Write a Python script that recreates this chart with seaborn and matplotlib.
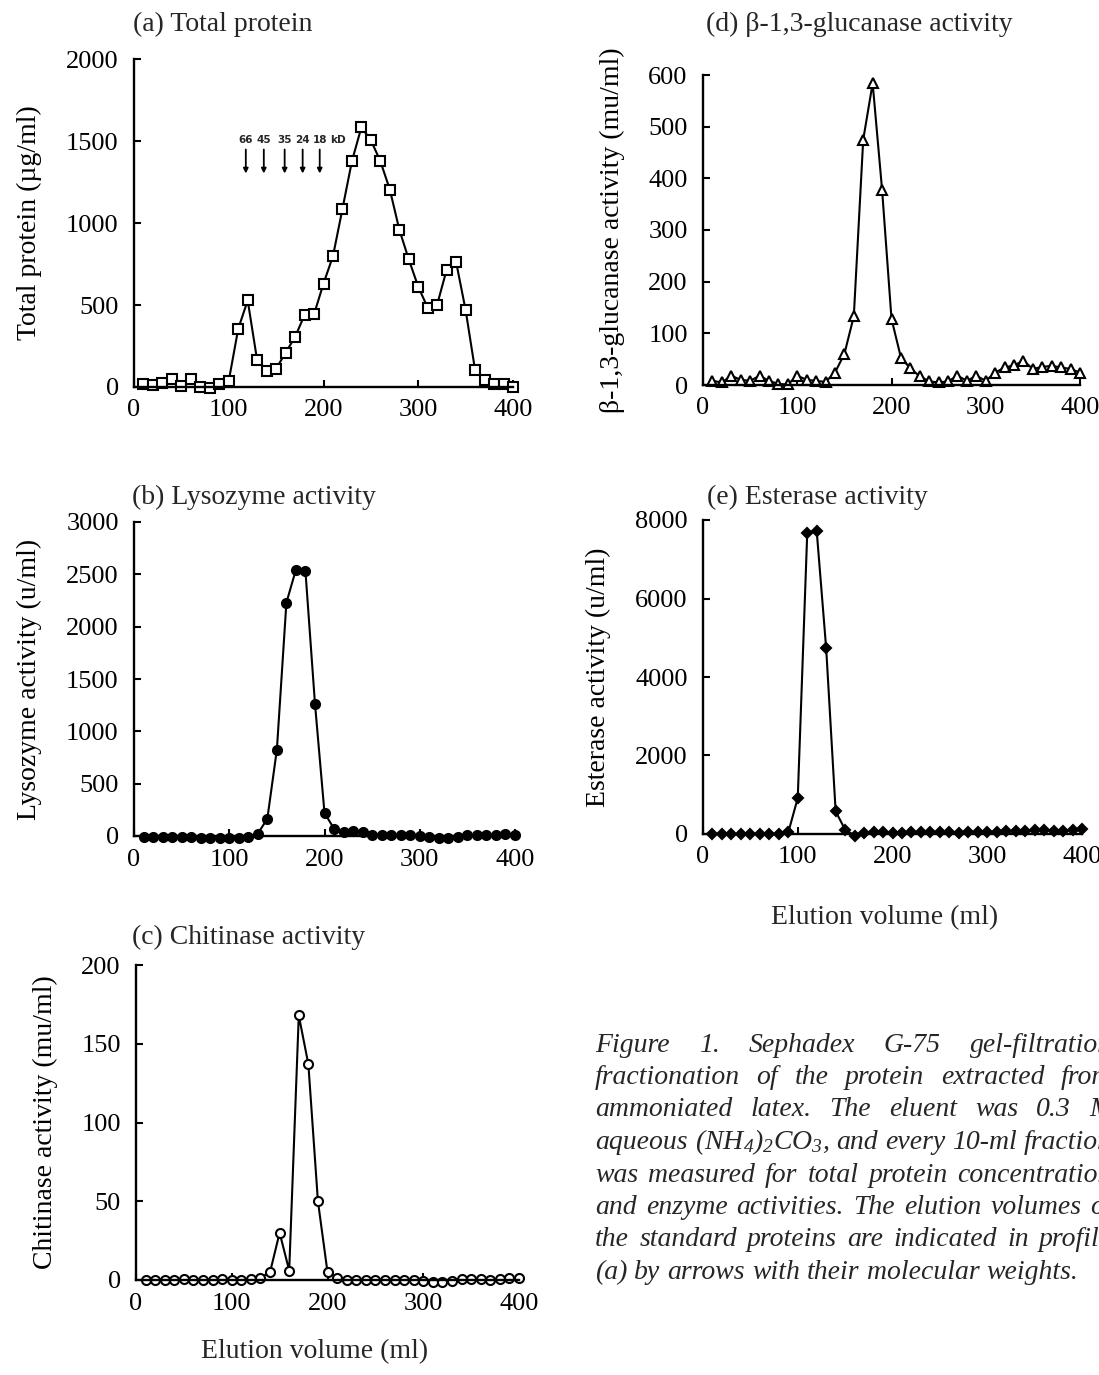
import matplotlib
matplotlib.use("Agg")
import matplotlib.pyplot as plt
import seaborn as sns

# --- DATA (every 10-ml fraction) ---
elution_ml = [10, 20, 30, 40, 50, 60, 70, 80, 90, 100,
              110, 120, 130, 140, 150, 160, 170, 180, 190, 200,
              210, 220, 230, 240, 250, 260, 270, 280, 290, 300,
              310, 320, 330, 340, 350, 360, 370, 380, 390, 400]

total_protein = [20, 12, 26, 47, 6, 47, 0, -4, 16, 37,
                 355, 528, 162, 100, 112, 209, 305, 439, 443, 631,
                 798, 1086, 1377, 1584, 1505, 1377, 1204, 960, 778, 611,
                 483, 503, 716, 761, 469, 102, 43, 16, 16, 0]

lysozyme = [-10, -10, -5, -5, -5, -10, -15, -20, -20, -20,
            -20, -10, 22, 166, 825, 2229, 2545, 2529, 1264, 220,
            70, 38, 48, 38, 10, 5, 5, 5, 10, 0,
            -5, -15, -20, -5, 5, 5, 5, 10, 15, 10]

chitinase = [0, 0, 0, 0, 0.5, 0, 0, 0, 0.5, 0,
             0, 0.5, 1.5, 5, 30, 6, 168, 137, 50, 5,
             1.5, 0, 0, 0, 0, 0, 0, 0, 0, -0.5,
             -1, -1, -0.5, 0.5, 0.5, 0.5, 0, 0.5, 1, 1]

glucanase = [8, 5, 18, 10, 8, 18, 8, 2, 1, 18,
             10, 8, 6, 24, 60, 133, 475, 584, 378, 128,
             53, 32, 17, 7, 5, 7, 18, 8, 18, 8,
             24, 34, 38, 47, 31, 35, 37, 34, 31, 24]

esterase = [10, 0, 0, 0, 0, 10, 0, 10, 40, 916,
            7660, 7720, 4730, 577, 110, -40, 20, 40, 40, 30,
            30, 40, 40, 50, 40, 50, 30, 50, 50, 60,
            60, 80, 70, 70, 100, 90, 70, 70, 90, 130]

# molecular weight standards shown by arrows in (a)
standard_ml = [118, 137, 159, 178, 196]
standard_kd = ["66", "45", "35", "24", "18"]

caption_lines = [
    "Figure 1. Sephadex G-75 gel-filtration",
    "fractionation of the protein extracted from",
    "ammoniated latex. The eluent was 0.3 M",
    "aqueous (NH$_4$)$_2$CO$_3$, and every 10-ml fraction",
    "was measured for total protein concentration",
    "and enzyme activities. The elution volumes of",
    "the standard proteins are indicated in profile",
    "(a) by arrows with their molecular weights.",
]

# --- STYLE ---
sns.set_theme(style="ticks")
plt.rcParams['font.family'] = ['Liberation Serif', 'DejaVu Serif']
plt.rcParams['mathtext.fontset'] = 'custom'
plt.rcParams['mathtext.rm'] = 'Liberation Serif:italic'
plt.rcParams['mathtext.it'] = 'Liberation Serif:italic'

W, H = 1099, 1375
fig = plt.figure(figsize=(W / 100, H / 100), dpi=100)
fig.patch.set_facecolor('white')


def px_axes(left, right, top, bottom):
    return fig.add_axes([left / W, 1 - bottom / H, (right - left) / W, (bottom - top) / H])


# key, title, ylabel, values, marker, filled, (l, r, t, b), ymax, ystep, title pos
panels = [
    ("a", "(a) Total protein", "Total protein (\u00b5g/ml)", total_protein, "s", False,
     (134, 513, 59, 387), 2000, 500, (133, 24)),
    ("d", "(d) \u03b2-1,3-glucanase activity", "\u03b2-1,3-glucanase activity (mu/ml)", glucanase, "^", False,
     (703, 1080, 75, 385), 600, 100, (706, 24)),
    ("b", "(b) Lysozyme activity", "Lysozyme activity (u/ml)", lysozyme, "o", True,
     (134, 515, 522, 836), 3000, 500, (132, 497)),
    ("e", "(e) Esterase activity", "Esterase activity (u/ml)", esterase, "D", True,
     (703, 1082, 520, 834), 8000, 2000, (707, 497)),
    ("c", "(c) Chitinase activity", "Chitinase activity (mu/ml)", chitinase, "o", False,
     (136, 519, 965, 1280), 200, 50, (132, 937)),
]

axes = {}
for key, title, ylabel, values, marker, filled, rect, ymax, ystep, tpos in panels:
    ax = px_axes(*rect)
    axes[key] = ax
    msize = 5.5 if marker == "D" else 6.5
    if marker == "^":
        msize = 7
    sns.lineplot(x=elution_ml, y=values, ax=ax, color="black", linewidth=1.5,
                 marker=marker, markersize=msize,
                 markerfacecolor="black" if filled else "white",
                 markeredgecolor="black", markeredgewidth=1.5, clip_on=False)
    ax.set_xlim(0, 400)
    ax.set_ylim(0, ymax)
    ax.set_xticks([0, 100, 200, 300, 400])
    ax.set_yticks(list(range(0, ymax + 1, ystep)))
    ax.tick_params(axis="both", direction="in", length=5, width=1.5,
                   labelsize=19, colors="black")
    ax.tick_params(axis="y", pad=11)
    ax.tick_params(axis="x", pad=9)
    ax.set_xlabel("")
    ax.set_ylabel(ylabel, fontsize=20, labelpad=17, color="black")
    sns.despine(ax=ax)
    for side in ("left", "bottom"):
        ax.spines[side].set_linewidth(1.7)
        ax.spines[side].set_color("black")
    ax.set_facecolor("white")
    fig.text(tpos[0] / W, 1 - tpos[1] / H, title, fontsize=20, ha="left", va="center")

# arrows for the standard proteins in (a)
ax_a = axes["a"]
for ml, kd in zip(standard_ml, standard_kd):
    ax_a.annotate("", xy=(ml, 1285), xytext=(ml, 1465),
                  arrowprops=dict(arrowstyle="-|>", color="black", lw=1.3, mutation_scale=7))
    ax_a.text(ml, 1505, kd, fontsize=7.5, fontweight="bold", family="DejaVu Sans",
              ha="center", va="center")
ax_a.text(standard_ml[-1] + 19, 1505, "kD", fontsize=7.5, fontweight="bold",
          family="DejaVu Sans", ha="center", va="center")

# shared x labels
fig.text(315 / W, 1 - 1352 / H, "Elution volume (ml)", fontsize=20, ha="center", va="center")
fig.text(885 / W, 1 - 918 / H, "Elution volume (ml)", fontsize=20, ha="center", va="center")

# --- CAPTION (justified italic block, cut by the right edge as in the scan) ---
renderer = fig.canvas.get_renderer()
cap_left, cap_right = 595, 1112
cap_top, cap_step = 1045, 32.5
for i, line in enumerate(caption_lines):
    words = line.split(" ")
    y = 1 - (cap_top + i * cap_step) / H
    items = [fig.text(0, y, w, fontsize=20, style="italic", ha="left", va="center")
             for w in words]
    widths = [t.get_window_extent(renderer).width for t in items]
    space = 7.0
    if i < len(caption_lines) - 1 and len(words) > 1:
        space = max(space, (cap_right - cap_left - sum(widths)) / (len(words) - 1))
    x = cap_left
    for t, wd in zip(items, widths):
        t.set_x(x / W)
        x += wd + space

fig.savefig("out.png", dpi=100, facecolor="white")
